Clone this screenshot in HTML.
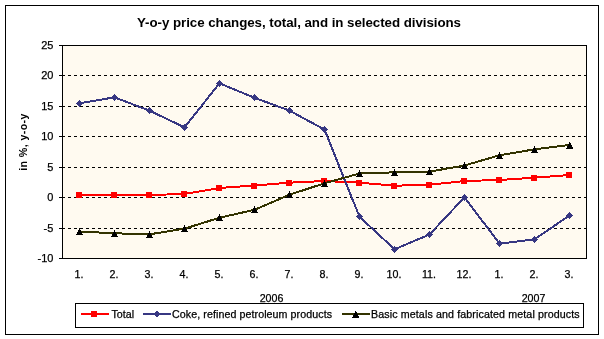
<!DOCTYPE html>
<html><head><meta charset="utf-8"><style>
html,body{margin:0;padding:0;background:#fff;}
body{width:604px;height:339px;overflow:hidden;position:relative;}
svg{position:absolute;left:0;top:0;will-change:transform;}
text{font-family:"Liberation Sans",sans-serif;fill:#000;}
text.r{stroke:#000;stroke-width:0.25px;}
</style></head><body>
<svg width="604" height="339" viewBox="0 0 604 339">
<rect x="0" y="0" width="604" height="339" fill="#fff"/>
<!-- outer border -->
<rect x="5.5" y="5.5" width="593" height="329" fill="none" stroke="#000" stroke-width="1" shape-rendering="crispEdges"/>
<!-- title -->
<text x="299" y="27" font-size="13.33" font-weight="bold" letter-spacing="-0.05" text-anchor="middle">Y-o-y price changes, total, and in selected divisions</text>
<!-- plot area -->
<rect x="62" y="45" width="525" height="214" fill="#000" shape-rendering="crispEdges"/>
<rect x="63" y="46" width="523" height="212" fill="#FFFAF0" shape-rendering="crispEdges"/>

<line x1="62" y1="75.5" x2="586" y2="75.5" stroke="#000" stroke-width="1" stroke-dasharray="3 3" shape-rendering="crispEdges"/>
<line x1="62" y1="106.5" x2="586" y2="106.5" stroke="#000" stroke-width="1" stroke-dasharray="3 3" shape-rendering="crispEdges"/>
<line x1="62" y1="136.5" x2="586" y2="136.5" stroke="#000" stroke-width="1" stroke-dasharray="3 3" shape-rendering="crispEdges"/>
<line x1="62" y1="167.5" x2="586" y2="167.5" stroke="#000" stroke-width="1" stroke-dasharray="3 3" shape-rendering="crispEdges"/>
<line x1="62" y1="197.5" x2="586" y2="197.5" stroke="#000" stroke-width="1" stroke-dasharray="3 3" shape-rendering="crispEdges"/>
<line x1="62" y1="228.5" x2="586" y2="228.5" stroke="#000" stroke-width="1" stroke-dasharray="3 3" shape-rendering="crispEdges"/>
<rect x="59" y="45" width="3" height="1" fill="#000" shape-rendering="crispEdges"/>
<rect x="59" y="75" width="3" height="1" fill="#000" shape-rendering="crispEdges"/>
<rect x="59" y="106" width="3" height="1" fill="#000" shape-rendering="crispEdges"/>
<rect x="59" y="136" width="3" height="1" fill="#000" shape-rendering="crispEdges"/>
<rect x="59" y="167" width="3" height="1" fill="#000" shape-rendering="crispEdges"/>
<rect x="59" y="197" width="3" height="1" fill="#000" shape-rendering="crispEdges"/>
<rect x="59" y="228" width="3" height="1" fill="#000" shape-rendering="crispEdges"/>
<rect x="59" y="258" width="3" height="1" fill="#000" shape-rendering="crispEdges"/>
<text class="r" x="53.4" y="48.5" font-size="11" text-anchor="end">25</text>
<text class="r" x="53.4" y="78.5" font-size="11" text-anchor="end">20</text>
<text class="r" x="53.4" y="109.5" font-size="11" text-anchor="end">15</text>
<text class="r" x="53.4" y="139.5" font-size="11" text-anchor="end">10</text>
<text class="r" x="53.4" y="170.5" font-size="11" text-anchor="end">5</text>
<text class="r" x="53.4" y="200.5" font-size="11" text-anchor="end">0</text>
<text class="r" x="53.4" y="231.5" font-size="11" text-anchor="end">-5</text>
<text class="r" x="53.4" y="261.5" font-size="11" text-anchor="end">-10</text>
<text transform="translate(27,142) rotate(-90)" font-size="10.67" font-weight="bold" letter-spacing="0.4" text-anchor="middle">in %, y-o-y</text>
<text class="r" x="79.0" y="278" font-size="10.67" text-anchor="middle">1.</text>
<text class="r" x="114.0" y="278" font-size="10.67" text-anchor="middle">2.</text>
<text class="r" x="149.0" y="278" font-size="10.67" text-anchor="middle">3.</text>
<text class="r" x="184.0" y="278" font-size="10.67" text-anchor="middle">4.</text>
<text class="r" x="219.0" y="278" font-size="10.67" text-anchor="middle">5.</text>
<text class="r" x="254.0" y="278" font-size="10.67" text-anchor="middle">6.</text>
<text class="r" x="289.0" y="278" font-size="10.67" text-anchor="middle">7.</text>
<text class="r" x="324.0" y="278" font-size="10.67" text-anchor="middle">8.</text>
<text class="r" x="359.0" y="278" font-size="10.67" text-anchor="middle">9.</text>
<text class="r" x="394.0" y="278" font-size="10.67" text-anchor="middle">10.</text>
<text class="r" x="429.0" y="278" font-size="10.67" text-anchor="middle">11.</text>
<text class="r" x="464.0" y="278" font-size="10.67" text-anchor="middle">12.</text>
<text class="r" x="499.0" y="278" font-size="10.67" text-anchor="middle">1.</text>
<text class="r" x="534.0" y="278" font-size="10.67" text-anchor="middle">2.</text>
<text class="r" x="569.0" y="278" font-size="10.67" text-anchor="middle">3.</text>
<text class="r" x="271.5" y="301.5" font-size="10.67" text-anchor="middle">2006</text>
<text class="r" x="533.5" y="301.5" font-size="10.67" text-anchor="middle">2007</text>
<polyline points="79.5,195.0 114.5,195.0 149.5,195.0 184.5,194.0 219.5,188.0 254.5,185.5 289.5,182.7 324.5,181.0 359.5,182.7 394.5,185.7 429.5,184.8 464.5,181.0 499.5,180.0 534.5,177.7 569.5,175.0" fill="none" stroke="#FF0000" stroke-width="2" stroke-linejoin="round" shape-rendering="crispEdges"/>
<rect x="76.0" y="192.0" width="6" height="6" fill="#FF0000" shape-rendering="crispEdges"/>
<rect x="111.0" y="192.0" width="6" height="6" fill="#FF0000" shape-rendering="crispEdges"/>
<rect x="146.0" y="192.0" width="6" height="6" fill="#FF0000" shape-rendering="crispEdges"/>
<rect x="181.0" y="191.0" width="6" height="6" fill="#FF0000" shape-rendering="crispEdges"/>
<rect x="216.0" y="185.0" width="6" height="6" fill="#FF0000" shape-rendering="crispEdges"/>
<rect x="251.0" y="182.5" width="6" height="6" fill="#FF0000" shape-rendering="crispEdges"/>
<rect x="286.0" y="179.7" width="6" height="6" fill="#FF0000" shape-rendering="crispEdges"/>
<rect x="321.0" y="178.0" width="6" height="6" fill="#FF0000" shape-rendering="crispEdges"/>
<rect x="356.0" y="179.7" width="6" height="6" fill="#FF0000" shape-rendering="crispEdges"/>
<rect x="391.0" y="182.7" width="6" height="6" fill="#FF0000" shape-rendering="crispEdges"/>
<rect x="426.0" y="181.8" width="6" height="6" fill="#FF0000" shape-rendering="crispEdges"/>
<rect x="461.0" y="178.0" width="6" height="6" fill="#FF0000" shape-rendering="crispEdges"/>
<rect x="496.0" y="177.0" width="6" height="6" fill="#FF0000" shape-rendering="crispEdges"/>
<rect x="531.0" y="174.7" width="6" height="6" fill="#FF0000" shape-rendering="crispEdges"/>
<rect x="566.0" y="172.0" width="6" height="6" fill="#FF0000" shape-rendering="crispEdges"/>
<polyline points="79.5,103.3 114.5,97.3 149.5,110.7 184.5,127.3 219.5,83.3 254.5,97.8 289.5,110.6 324.5,129.6 359.5,216.7 394.5,249.3 429.5,234.5 464.5,197.3 499.5,243.7 534.5,239.3 569.5,215.5" fill="none" stroke="#373782" stroke-width="2" stroke-linejoin="round" shape-rendering="crispEdges"/>
<path d="M79.5,99.8 L83.0,103.3 L79.5,106.8 L76.0,103.3 Z" fill="#373782" shape-rendering="crispEdges"/>
<path d="M114.5,93.8 L118.0,97.3 L114.5,100.8 L111.0,97.3 Z" fill="#373782" shape-rendering="crispEdges"/>
<path d="M149.5,107.2 L153.0,110.7 L149.5,114.2 L146.0,110.7 Z" fill="#373782" shape-rendering="crispEdges"/>
<path d="M184.5,123.8 L188.0,127.3 L184.5,130.8 L181.0,127.3 Z" fill="#373782" shape-rendering="crispEdges"/>
<path d="M219.5,79.8 L223.0,83.3 L219.5,86.8 L216.0,83.3 Z" fill="#373782" shape-rendering="crispEdges"/>
<path d="M254.5,94.3 L258.0,97.8 L254.5,101.3 L251.0,97.8 Z" fill="#373782" shape-rendering="crispEdges"/>
<path d="M289.5,107.1 L293.0,110.6 L289.5,114.1 L286.0,110.6 Z" fill="#373782" shape-rendering="crispEdges"/>
<path d="M324.5,126.1 L328.0,129.6 L324.5,133.1 L321.0,129.6 Z" fill="#373782" shape-rendering="crispEdges"/>
<path d="M359.5,213.2 L363.0,216.7 L359.5,220.2 L356.0,216.7 Z" fill="#373782" shape-rendering="crispEdges"/>
<path d="M394.5,245.8 L398.0,249.3 L394.5,252.8 L391.0,249.3 Z" fill="#373782" shape-rendering="crispEdges"/>
<path d="M429.5,231.0 L433.0,234.5 L429.5,238.0 L426.0,234.5 Z" fill="#373782" shape-rendering="crispEdges"/>
<path d="M464.5,193.8 L468.0,197.3 L464.5,200.8 L461.0,197.3 Z" fill="#373782" shape-rendering="crispEdges"/>
<path d="M499.5,240.2 L503.0,243.7 L499.5,247.2 L496.0,243.7 Z" fill="#373782" shape-rendering="crispEdges"/>
<path d="M534.5,235.8 L538.0,239.3 L534.5,242.8 L531.0,239.3 Z" fill="#373782" shape-rendering="crispEdges"/>
<path d="M569.5,212.0 L573.0,215.5 L569.5,219.0 L566.0,215.5 Z" fill="#373782" shape-rendering="crispEdges"/>
<polyline points="79.5,231.5 114.5,233.3 149.5,234.3 184.5,228.7 219.5,217.7 254.5,209.8 289.5,194.7 324.5,183.3 359.5,173.5 394.5,172.3 429.5,171.6 464.5,165.5 499.5,155.3 534.5,149.3 569.5,145.0" fill="none" stroke="#333300" stroke-width="2" stroke-linejoin="round" shape-rendering="crispEdges"/>
<path d="M79.5,228.0 L83.0,235.0 L76.0,235.0 Z" fill="#000" shape-rendering="crispEdges"/>
<path d="M114.5,229.8 L118.0,236.8 L111.0,236.8 Z" fill="#000" shape-rendering="crispEdges"/>
<path d="M149.5,230.8 L153.0,237.8 L146.0,237.8 Z" fill="#000" shape-rendering="crispEdges"/>
<path d="M184.5,225.2 L188.0,232.2 L181.0,232.2 Z" fill="#000" shape-rendering="crispEdges"/>
<path d="M219.5,214.2 L223.0,221.2 L216.0,221.2 Z" fill="#000" shape-rendering="crispEdges"/>
<path d="M254.5,206.3 L258.0,213.3 L251.0,213.3 Z" fill="#000" shape-rendering="crispEdges"/>
<path d="M289.5,191.2 L293.0,198.2 L286.0,198.2 Z" fill="#000" shape-rendering="crispEdges"/>
<path d="M324.5,179.8 L328.0,186.8 L321.0,186.8 Z" fill="#000" shape-rendering="crispEdges"/>
<path d="M359.5,170.0 L363.0,177.0 L356.0,177.0 Z" fill="#000" shape-rendering="crispEdges"/>
<path d="M394.5,168.8 L398.0,175.8 L391.0,175.8 Z" fill="#000" shape-rendering="crispEdges"/>
<path d="M429.5,168.1 L433.0,175.1 L426.0,175.1 Z" fill="#000" shape-rendering="crispEdges"/>
<path d="M464.5,162.0 L468.0,169.0 L461.0,169.0 Z" fill="#000" shape-rendering="crispEdges"/>
<path d="M499.5,151.8 L503.0,158.8 L496.0,158.8 Z" fill="#000" shape-rendering="crispEdges"/>
<path d="M534.5,145.8 L538.0,152.8 L531.0,152.8 Z" fill="#000" shape-rendering="crispEdges"/>
<path d="M569.5,141.5 L573.0,148.5 L566.0,148.5 Z" fill="#000" shape-rendering="crispEdges"/>
<rect x="75.5" y="303.5" width="508" height="24" fill="#fff" stroke="#000" stroke-width="1" shape-rendering="crispEdges"/>
<rect x="81" y="313" width="28" height="2" fill="#FF0000" shape-rendering="crispEdges"/>
<rect x="91" y="311" width="6" height="6" fill="#FF0000" shape-rendering="crispEdges"/>
<text class="r" x="111.5" y="318" font-size="10.67">Total</text>
<rect x="143" y="313" width="28" height="2" fill="#373782" shape-rendering="crispEdges"/>
<path d="M156.5,310.5 L160,314 L156.5,317.5 L153,314 Z" fill="#373782" shape-rendering="crispEdges"/>
<text class="r" x="172" y="318" font-size="10.67" letter-spacing="0.08">Coke, refined petroleum products</text>
<rect x="342" y="313" width="28" height="2" fill="#333300" shape-rendering="crispEdges"/>
<path d="M355.5,310.5 L359,317.5 L352,317.5 Z" fill="#000" shape-rendering="crispEdges"/>
<text class="r" x="371" y="318" font-size="10.67" letter-spacing="0.12">Basic metals and fabricated metal products</text>
</svg>
</body></html>
